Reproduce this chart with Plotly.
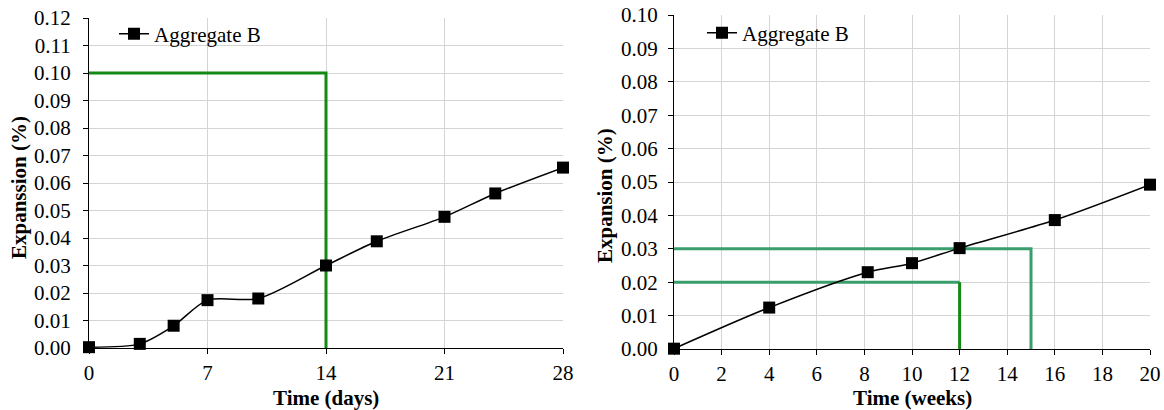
import plotly.graph_objects as go

# Left chart data (days)
days = [0, 3, 5, 7, 10, 14, 17, 21, 24, 28]
exp_days = [0.0003, 0.0015, 0.0081, 0.0174, 0.0180, 0.0300, 0.0388, 0.0477, 0.0562, 0.0656]
limit_days_x = [0, 14, 14]
limit_days_y = [0.10, 0.10, 0.0]

# Right chart data (weeks)
weeks = [0, 4, 8.14, 10, 12, 16, 20]
exp_weeks = [0.0001, 0.0124, 0.0230, 0.0257, 0.0302, 0.0386, 0.0492]
limit_a_x = [0, 15, 15]
limit_a_y = [0.03, 0.03, 0.0]
limit_b_hx = [0, 12]
limit_b_hy = [0.02, 0.02]
limit_b_vx = [12, 12]
limit_b_vy = [0.02, 0.0]

xticks_days = [0, 7, 14, 21, 28]
yticks_left = [round(i * 0.01, 2) for i in range(13)]
xticks_weeks = list(range(0, 21, 2))
yticks_right = [round(i * 0.01, 2) for i in range(11)]

FONT = "Liberation Serif, Times New Roman, serif"
FS = 21
DARK_GREEN = "#138a13"
SEA_GREEN = "#3a9e6c"
GRID = "#d4d4d4"

W, H = 1164, 410


def px(x):
    return x / W


def py(y):
    return (H - y) / H


fig = go.Figure()

# Left
fig.add_trace(go.Scatter(x=limit_days_x, y=limit_days_y, mode="lines",
                         line=dict(color=DARK_GREEN, width=3), showlegend=False,
                         xaxis="x", yaxis="y"))
fig.add_trace(go.Scatter(x=days, y=exp_days, mode="lines+markers", name="Aggregate B",
                         line=dict(color="black", width=1.5, shape="spline", smoothing=0.8),
                         marker=dict(symbol="square", size=12, color="black"),
                         xaxis="x", yaxis="y", legend="legend", cliponaxis=False))

# Right
fig.add_trace(go.Scatter(x=limit_a_x, y=limit_a_y, mode="lines",
                         line=dict(color=SEA_GREEN, width=3), showlegend=False,
                         xaxis="x2", yaxis="y2"))
fig.add_trace(go.Scatter(x=limit_b_hx, y=limit_b_hy, mode="lines",
                         line=dict(color=SEA_GREEN, width=3), showlegend=False,
                         xaxis="x2", yaxis="y2"))
fig.add_trace(go.Scatter(x=limit_b_vx, y=limit_b_vy, mode="lines",
                         line=dict(color=DARK_GREEN, width=3), showlegend=False,
                         xaxis="x2", yaxis="y2"))
fig.add_trace(go.Scatter(x=weeks, y=exp_weeks, mode="lines+markers", name="Aggregate B",
                         line=dict(color="black", width=1.5, shape="spline", smoothing=0.8),
                         marker=dict(symbol="square", size=12, color="black"),
                         xaxis="x2", yaxis="y2", legend="legend2", cliponaxis=False))

axis_common = dict(showgrid=True, gridcolor=GRID, gridwidth=1, zeroline=False,
                   showline=True, linecolor="black", linewidth=1,
                   ticks="outside", ticklen=5, tickcolor="black", automargin=False,
                   ticklabeloverflow="allow",
                   tickfont=dict(family=FONT, size=FS, color="black"))
title_font = dict(family=FONT, size=FS, color="black")

fig.update_layout(
    template="none",
    width=W, height=H,
    margin=dict(l=0, r=0, t=0, b=0),
    paper_bgcolor="white", plot_bgcolor="white",
    font=dict(family=FONT, size=FS, color="black"),
    xaxis=dict(domain=[px(89), px(563)], range=[0, 28], tickvals=xticks_days,
               anchor="y", ticklabelstandoff=1, **axis_common),
    yaxis=dict(domain=[py(348), py(18)], range=[0, 0.12], tickvals=yticks_left,
               tickformat=".2f", anchor="x", ticklabelstandoff=8, **axis_common),
    xaxis2=dict(domain=[px(674), px(1150)], range=[0, 20], tickvals=xticks_weeks,
                anchor="y2", ticklabelstandoff=1, **axis_common),
    yaxis2=dict(domain=[py(349), py(15)], range=[0, 0.10], tickvals=yticks_right,
                tickformat=".2f", anchor="x2", ticklabelstandoff=6, **axis_common),
    legend=dict(x=px(114), y=py(34), xanchor="left", yanchor="middle",
                bgcolor="rgba(0,0,0,0)", font=dict(family=FONT, size=FS, color="black"),
                itemwidth=30, tracegroupgap=0),
    legend2=dict(x=px(702), y=py(33), xanchor="left", yanchor="middle",
                 bgcolor="rgba(0,0,0,0)", font=dict(family=FONT, size=FS, color="black"),
                 itemwidth=30, tracegroupgap=0),
    annotations=[
        dict(text="<b>Time (days)</b>", x=px(326), y=py(398), xref="paper", yref="paper",
             showarrow=False, xanchor="center", yanchor="middle", font=title_font),
        dict(text="<b>Time (weeks)</b>", x=px(912), y=py(398), xref="paper", yref="paper",
             showarrow=False, xanchor="center", yanchor="middle", font=title_font),
        dict(text="<b>Expanssion (%)</b>", x=px(19), y=py(188), xref="paper", yref="paper",
             showarrow=False, xanchor="center", yanchor="middle", textangle=-90, font=title_font),
        dict(text="<b>Expansion (%)</b>", x=px(605), y=py(196), xref="paper", yref="paper",
             showarrow=False, xanchor="center", yanchor="middle", textangle=-90, font=title_font),
    ],
)

fig.write_html(
    "out.html",
    config={"displayModeBar": False},
    post_script="document.body.style.margin='0px';document.body.style.overflow='hidden';",
)
